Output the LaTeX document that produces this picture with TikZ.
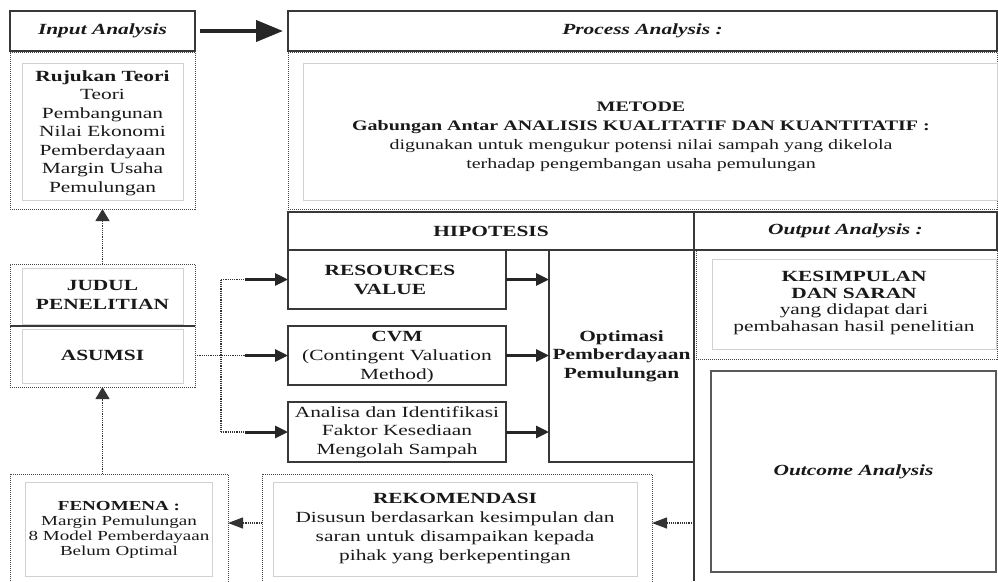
\documentclass[tikz,border=0pt]{standalone}
\usepackage{fontspec}
\setmainfont{Liberation Serif}[FakeStretch=1.38]
\usetikzlibrary{arrows.meta}
\begin{document}
\begin{tikzpicture}[x=1pt,y=-1pt,
  solidbox/.style={draw=black!78, line width=1.1pt, inner sep=0pt, outer sep=0pt},
  dotbox/.style={draw=black!72, line width=1pt, dash pattern=on 1pt off 1pt, inner sep=0pt, outer sep=0pt},
  innerbox/.style={draw=black!18, line width=0.8pt, inner sep=0pt, outer sep=0pt},
  txt/.style={align=center, text=black!90, inner sep=0pt, font=\fontsize{15.5}{18.5}\selectfont},
  bigtxt/.style={txt, font=\fontsize{14.5}{19}\selectfont},
  smalltxt/.style={txt, font=\fontsize{13.8}{15}\selectfont},
  bigarrow/.style={line width=4pt, draw=black!85, -{Triangle[length=27pt,width=21pt]}},
  solarrow/.style={line width=3pt, draw=black!85, -{Triangle[length=13pt,width=12pt]}},
  dotline/.style={line width=1.2pt, draw=black!80, dash pattern=on 1.2pt off 1pt},
  dotarrow/.style={dotline, -{Triangle[length=12pt,width=14pt]}},
  leftarrow/.style={dotline, -{Triangle[length=15pt,width=11pt]}},
  wh/.style 2 args={minimum width=#1pt, minimum height=#2pt}
]
\useasboundingbox (0,0) rectangle (998,581);
\clip (0,0) rectangle (998,581);

% top row
\node[solidbox, wh={185}{40}] (inp) at (102.5,31) {};
\node[txt, font=\fontsize{15.5}{18.5}\selectfont\bfseries\itshape] (inpt) at (102.5,31) {Input Analysis};
\node[solidbox, wh={709}{40}] (proc) at (642.5,31) {};
\node[txt, font=\fontsize{15.5}{18.5}\selectfont\bfseries\itshape] (proct) at (642.5,31) {Process Analysis :};

% Rujukan
\node[dotbox, wh={185}{157}] (ruj) at (102.5,130.5) {};
\node[innerbox, wh={161}{137}] (rujin) at (102.5,131.5) {};
\node[txt] (rujt) at (102.5,133) {\textbf{Rujukan Teori}\\Teori\\Pembangunan\\Nilai Ekonomi\\Pemberdayaan\\Margin Usaha\\Pemulungan};

% Metode
\node[dotbox, wh={709}{157}] (met) at (642.5,130.5) {};
\node[innerbox, wh={694}{137}] (metin) at (650,131.5) {};
\node[bigtxt] (mett) at (641,137) {\textbf{METODE}\\\textbf{Gabungan Antar ANALISIS KUALITATIF DAN KUANTITATIF :}\\digunakan untuk mengukur potensi nilai sampah yang dikelola\\terhadap pengembangan usaha pemulungan};

% Hipotesis / Output headers
\node[solidbox, wh={406}{38}] (hip) at (491,231) {};
\node[txt, font=\fontsize{15.5}{18.5}\selectfont\bfseries] (hipt) at (491,231) {HIPOTESIS};
\node[solidbox, wh={303}{38}] (outh) at (845.5,231) {};
\node[txt, font=\fontsize{15.5}{18.5}\selectfont\bfseries\itshape] (outht) at (845.5,231) {Output Analysis :};

% Kesimpulan
\node[dotbox, wh={301}{109}] (kes) at (846.5,304.5) {};
\draw[draw=black!78, line width=1.1pt] (outh.south west) -- (outh.south east);
\node[innerbox, wh={284}{90}] (kesin) at (854,304) {};
\node[txt, font=\fontsize{15.5}{16.8}\selectfont] (kest) at (854,303) {\textbf{KESIMPULAN}\\\textbf{DAN SARAN}\\yang didapat dari\\pembahasan hasil penelitian};

% Outcome
\node[solidbox, draw=black!65, wh={285}{201}] (outc) at (853.5,471.5) {};
\node[txt, font=\fontsize{15.5}{18.5}\selectfont\bfseries\itshape] (outct) at (853.5,472) {Outcome Analysis};

% Hypothesis boxes
\node[solidbox, wh={218}{59}] (res) at (397,279.5) {};
\node[txt] (rest) at (390,280) {\textbf{RESOURCES}\\\textbf{VALUE}};
\node[solidbox, wh={218}{59}] (cvm) at (397,355.5) {};
\node[txt, font=\fontsize{15.5}{19}\selectfont] (cvmt) at (397,357) {\textbf{CVM}\\(Contingent Valuation\\Method)};
\node[solidbox, wh={218}{60}] (ana) at (397,432) {};
\node[txt, font=\fontsize{15.5}{18.5}\selectfont] (anat) at (397,432) {Analisa dan Identifikasi\\Faktor Kesediaan\\Mengolah Sampah};
\node[solidbox, wh={145}{212}] (opt) at (621.5,356) {};
\node[txt, font=\fontsize{15.5}{18.5}\selectfont\bfseries] (optt) at (621.5,356) {Optimasi\\Pemberdayaan\\Pemulungan};

\draw[draw=black!78, line width=1.1pt] (694,212) -- (694,581);

% Judul / Asumsi
\node[dotbox, wh={185}{123}] (ja) at (102.5,325.5) {};
\node[innerbox, wh={161}{56}] (judin) at (102.5,296) {};
\node[innerbox, wh={161}{54}] (asin) at (102.5,356) {};
\draw[draw=black!78, line width=1.1pt] (10,326) -- (195,326);
\node[txt, font=\fontsize{15.5}{18.5}\selectfont\bfseries] (judul) at (102.5,295) {JUDUL\\PENELITIAN};
\node[txt, font=\fontsize{15.5}{18.5}\selectfont\bfseries] (asumsi) at (102.5,355.5) {ASUMSI};

% Fenomena
\node[dotbox, wh={218}{126}] (fen) at (119,537) {};
\node[innerbox, wh={187}{94}] (fenin) at (118.5,529) {};
\node[smalltxt] (fent) at (119,530) {\textbf{FENOMENA :}\\Margin Pemulungan\\8 Model Pemberdayaan\\Belum Optimal};

% Rekomendasi
\node[dotbox, wh={390}{126}] (rek) at (457,537) {};
\node[innerbox, wh={364}{94}] (rekin) at (455,529) {};
\node[txt, font=\fontsize{15.5}{19}\selectfont] (rekt) at (455,529) {\textbf{REKOMENDASI}\\Disusun berdasarkan kesimpulan dan\\saran untuk disampaikan kepada\\pihak yang berkepentingan};

% connectors
\draw[bigarrow, shorten <=5pt, shorten >=5pt] (inp.east) -- (proc.west);
\draw[dotarrow] (ja.north) -- (ruj.south);
\draw[dotarrow] (ja.south |- fen.north) -- (ja.south);

\coordinate (br) at (221,0);
\coordinate (bs) at (245,0);
\draw[dotline] (ja.east |- cvm.west) -- (bs |- cvm.west);
\draw[dotline] (br |- res.west) -- (br |- ana.west);
\draw[dotline] (br |- res.west) -- (bs |- res.west);
\draw[dotline] (br |- ana.west) -- (bs |- ana.west);
\draw[solarrow] (bs |- res.west) -- (res.west);
\draw[solarrow] (bs |- cvm.west) -- (cvm.west);
\draw[solarrow] (bs |- ana.west) -- (ana.west);

\draw[solarrow] (res.east) -- (res.east -| opt.west);
\draw[solarrow] (cvm.east) -- (cvm.east -| opt.west);
\draw[solarrow] (ana.east) -- (ana.east -| opt.west);

\coordinate (oc) at (694,523);
\draw[leftarrow] (oc) -- (oc -| rek.east);
\draw[leftarrow] (oc -| rek.west) -- (oc -| fen.east);
\end{tikzpicture}
\end{document}
